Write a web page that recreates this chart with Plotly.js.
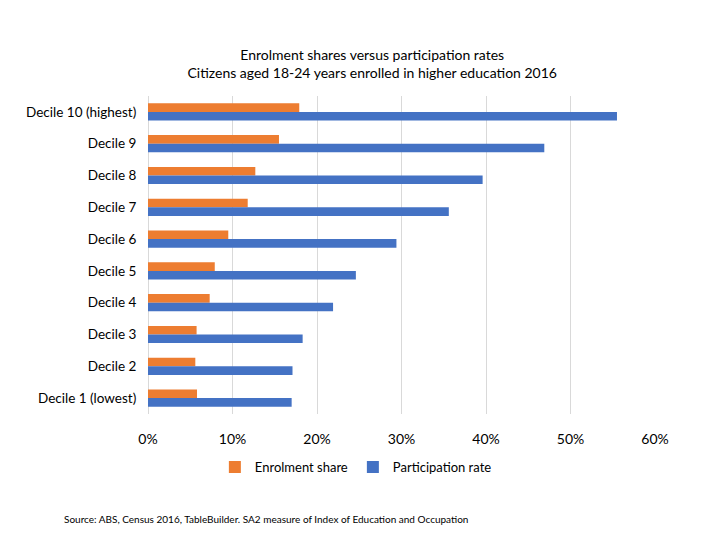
<!DOCTYPE html>
<html>
<head>
<meta charset="utf-8">
<script src="https://cdn.plot.ly/plotly-3.0.1.min.js"></script>
<style>html,body{margin:0;padding:0;background:#fff;}#chart{width:720px;height:540px;}</style>
</head>
<body>
<div id="chart"></div>
<script>
var categories = ["Decile 10 (highest)", "Decile 9", "Decile 8", "Decile 7", "Decile 6", "Decile 5", "Decile 4", "Decile 3", "Decile 2", "Decile 1 (lowest)"];
var enrolmentShare = [0.179, 0.155, 0.127, 0.118, 0.095, 0.079, 0.073, 0.0575, 0.056, 0.058];
var participationRate = [0.555, 0.469, 0.396, 0.356, 0.294, 0.246, 0.219, 0.183, 0.171, 0.170];
var xTicks = [0, 0.1, 0.2, 0.3, 0.4, 0.5, 0.6];
var xTickLabels = ["0%", "10%", "20%", "30%", "40%", "50%", "60%"];

var font = "Lato, 'Open Sans', sans-serif";
var traces = [
  {type: "bar", orientation: "h", name: "Enrolment share", y: categories, x: enrolmentShare,
   marker: {color: "#ED7D31"}, hoverinfo: "none"},
  {type: "bar", orientation: "h", name: "Participation rate", y: categories, x: participationRate,
   marker: {color: "#4472C4"}, hoverinfo: "none"}
];
var layout = {
  width: 720, height: 540,
  margin: {l: 148, r: 65, t: 96, b: 126},
  paper_bgcolor: "#fff", plot_bgcolor: "#fff",
  font: {family: font, size: 14, color: "#000"},
  title: {text: "Enrolment shares versus participation rates<br>Citizens aged 18-24 years enrolled in higher education 2016",
          font: {family: font, size: 14, color: "#000"},
          x: 0.517, xref: "container", xanchor: "center",
          y: 1 - 60/540, yref: "container", yanchor: "middle"},
  barmode: "group", bargap: 0.46, bargroupgap: 0,
  xaxis: {range: [0, 0.6], tickvals: xTicks, ticktext: xTickLabels, showgrid: true,
          gridcolor: "#D9D9D9", gridwidth: 1, zeroline: true, zerolinecolor: "#D9D9D9",
          showline: false, ticks: "outside", ticklen: 12, tickcolor: "rgba(0,0,0,0)",
          tickfont: {family: font, size: 14}, fixedrange: true},
  yaxis: {type: "category", categoryorder: "array", categoryarray: categories, autorange: "reversed",
          showgrid: false, zeroline: false, showline: false, ticks: "outside", ticklen: 8, tickcolor: "rgba(0,0,0,0)",
          tickfont: {family: font, size: 13.5}, fixedrange: true},
  showlegend: true,
  legend: {orientation: "h", x: 0.41, xanchor: "center", y: -0.167, yanchor: "middle",
           font: {family: font, size: 13}, itemwidth: 30, traceorder: "normal"},
  annotations: [{text: "Source: ABS, Census 2016, TableBuilder. SA2 measure of Index of Education and Occupation",
                 xref: "paper", yref: "paper", x: -0.17, y: -0.33, xanchor: "left", yanchor: "middle",
                 showarrow: false, font: {family: font, size: 10, color: "#000"}}]
};
Plotly.newPlot("chart", traces, layout, {displayModeBar: false, staticPlot: true});
</script>
</body>
</html>
